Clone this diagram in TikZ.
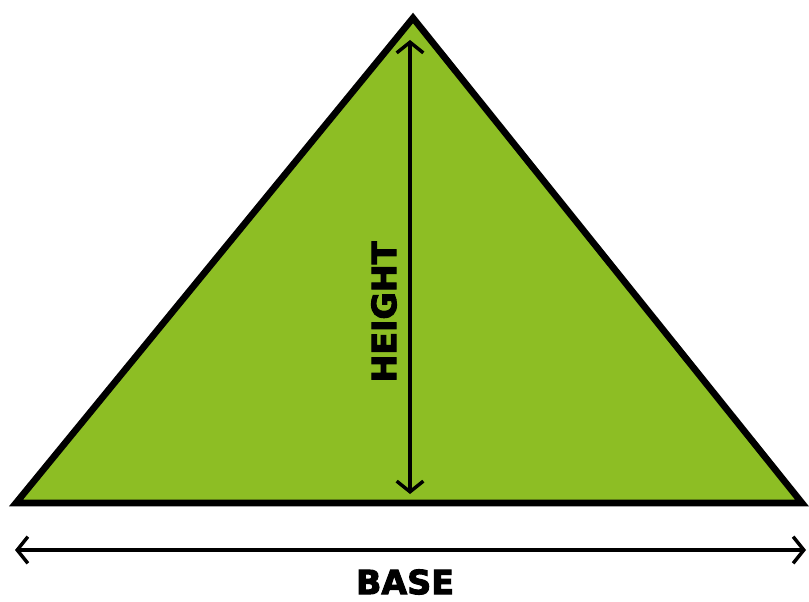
\documentclass[tikz,border=0pt]{standalone}
\usepackage{fontspec}
\setmainfont{DejaVu Sans}
\newfontfamily\heavyfont[FakeBold=3]{DejaVu Sans Bold}
\usetikzlibrary{arrows.meta}
\definecolor{trigreen}{RGB}{141,190,36}
\tikzset{
  tri/.style={fill=trigreen, draw=black, line width=5pt, line join=miter},
  dimarrow/.style={draw=black, line width=2.6pt, {Straight Barb[length=8pt,width=20pt,line width=2.6pt]}-{Straight Barb[length=8pt,width=20pt,line width=2.6pt]}},
  lbl/.style={font=\heavyfont\fontsize{25pt}{25pt}\selectfont, inner sep=0pt, text=black}
}
\begin{document}
\begin{tikzpicture}[x=0.75pt,y=-0.75pt]
\useasboundingbox (0,0) rectangle (809,602);
\coordinate (apex) at (413,18);
\coordinate (bl) at (16,503);
\coordinate (br) at (802,503);
\draw[tri] (apex) -- (bl) -- (br) -- cycle;
\coordinate (htop) at (410,40);
\coordinate (hbot) at (410,494);
\draw[dimarrow] (htop) -- (hbot);
\coordinate (bleft) at (15,550);
\coordinate (bright) at (806,550);
\draw[dimarrow] (bleft) -- (bright);
\node[lbl, rotate=90] (height) at (384,312) {HEIGHT};
\node[lbl] (base) at (405,582) {BASE};
\end{tikzpicture}
\end{document}
